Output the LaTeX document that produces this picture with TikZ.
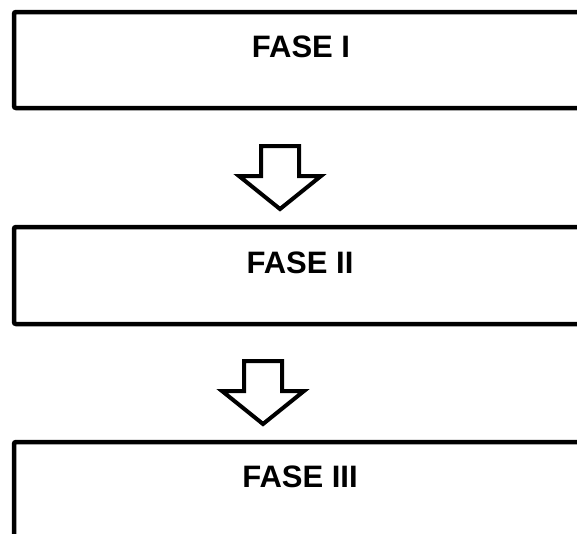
\documentclass[tikz,border=0pt]{standalone}
\usepackage{fontspec}
\setmainfont{Liberation Sans}
\usetikzlibrary{positioning}

\begin{document}
\begin{tikzpicture}[x=1pt,y=-1pt]
\tikzset{phase/.style = {draw,line width=4.5pt,rounded corners=2pt,minimum width=586pt,inner sep=0pt}}
\tikzset{title/.style = {font=\fontsize{31}{36}\selectfont\bfseries,anchor=base,inner sep=0pt}}
\tikzset{blockarrow/.pic = {\draw[line width=4pt] (-19,0) -- (19,0) -- (19,30) -- (41,30) -- (0,63) -- (-41,30) -- (-19,30) -- cycle;}}
% FRAME
\useasboundingbox (0,0) rectangle (577,533);
\clip (0,0) rectangle (577,533);
% BOXES
\node[phase,minimum height=96pt] (p1) at (307,60) {};
\node[phase,minimum height=97pt] (p2) at (307,275.5) {};
\node[phase,minimum height=118pt] (p3) at (307,501) {};
% TITLES
\node[title] (t1) at (301,57) {FASE I};
\node[title] (t2) at (300,273) {FASE II};
\node[title] (t3) at (300,487) {FASE III};
% ARROWS
\pic at (280,146) {blockarrow};
\pic at (263,361) {blockarrow};
\end{tikzpicture}
\end{document}
